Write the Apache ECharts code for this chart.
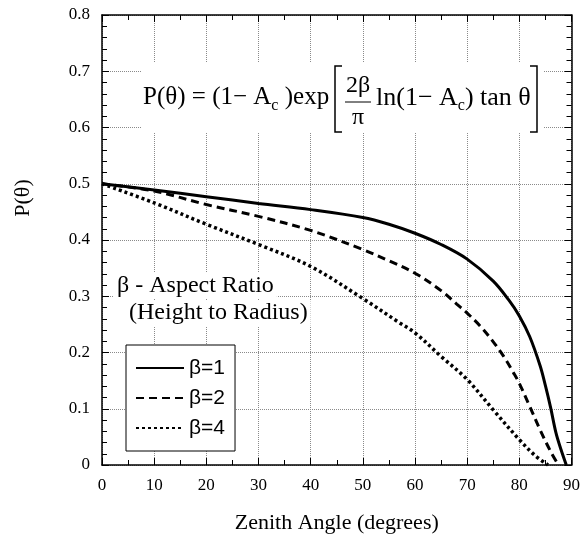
<!doctype html>
<html>
<head>
<meta charset="UTF-8">
<script src="https://cdn.jsdelivr.net/npm/echarts@6/dist/echarts.min.js"></script>
<style>
  html, body { margin: 0; padding: 0; background: #fff; }
  #chart { width: 583px; height: 543px; }
</style>
</head>
<body>
<div id="chart"></div>
<script type="text/javascript">
    // values
    var xTicks = [0, 10, 20, 30, 40, 50, 60, 70, 80, 90];
    var yTicks = [0, 0.1, 0.2, 0.3, 0.4, 0.5, 0.6, 0.7, 0.8];

    var beta1Angles = [0, 10, 20, 30, 40, 50, 55, 60, 65, 70, 75, 78, 80, 82, 84, 85, 86, 87, 88, 89];
    var beta1Values = [0.500, 0.489, 0.477, 0.465, 0.454, 0.440, 0.428, 0.412, 0.392, 0.366, 0.327, 0.293, 0.265, 0.228, 0.176, 0.141, 0.102, 0.058, 0.027, 0.000];

    var beta2Angles = [0, 10, 20, 30, 40, 50, 55, 60, 65, 68, 70, 72.5, 75, 77, 79, 80, 82, 84, 86, 87.5];
    var beta2Values = [0.500, 0.487, 0.463, 0.442, 0.417, 0.383, 0.363, 0.341, 0.310, 0.286, 0.270, 0.247, 0.219, 0.193, 0.162, 0.145, 0.104, 0.062, 0.024, 0.000];

    var beta4Angles = [0, 10, 20, 30, 40, 50, 57, 60, 65, 70, 75, 80, 83, 85.5];
    var beta4Values = [0.500, 0.466, 0.428, 0.392, 0.353, 0.296, 0.253, 0.235, 0.193, 0.152, 0.098, 0.045, 0.017, 0.000];

    var seriesNames = ['β=1', 'β=2', 'β=4'];

    function pairs(xs, ys) {
        return xs.map(function (x, i) { return [x, ys[i]]; });
    }

    var serif = '"Liberation Serif", "DejaVu Serif", serif';
    var sans = '"Liberation Sans", Arial, sans-serif';

    var myChart = echarts.init(document.getElementById('chart'), null, { renderer: 'canvas' });

    // shared axis look
    var xBase = {
        type: 'value',
        min: xTicks[0],
        max: xTicks[xTicks.length - 1],
        interval: xTicks[1] - xTicks[0],
        axisLine: { onZero: false, lineStyle: { color: '#000', width: 1.5 } },
        axisTick: { inside: true, length: 7, lineStyle: { color: '#000' } },
        minorTick: { show: true, splitNumber: 2, length: 5, lineStyle: { color: '#000' } }
    };
    var yBase = {
        type: 'value',
        min: yTicks[0],
        max: yTicks[yTicks.length - 1],
        interval: 0.1,
        axisLine: { onZero: false, lineStyle: { color: '#000', width: 1.5 } },
        axisTick: { inside: true, length: 7, lineStyle: { color: '#000' } },
        minorTick: { show: true, splitNumber: 5, length: 5, lineStyle: { color: '#000' } }
    };

    var option = {
        backgroundColor: '#fff',
        animation: false,
        grid: { left: 102, right: 8, top: 15, bottom: 78 },
        xAxis: [
            Object.assign({}, xBase, {
                position: 'bottom',
                name: 'Zenith Angle (degrees)',
                nameLocation: 'middle',
                nameGap: 47,
                nameTextStyle: { fontFamily: serif, fontSize: 22, color: '#000' },
                axisLabel: { fontFamily: serif, fontSize: 17, color: '#000', margin: 12 },
                splitLine: { show: true, lineStyle: { color: '#8a8a8a', type: 'dotted', width: 1 } }
            }),
            Object.assign({}, xBase, {
                position: 'top',
                axisLabel: { show: false },
                splitLine: { show: false }
            })
        ],
        yAxis: [
            Object.assign({}, yBase, {
                position: 'left',
                axisLabel: { fontFamily: serif, fontSize: 17, color: '#000', margin: 12 },
                splitLine: { show: true, lineStyle: { color: '#8a8a8a', type: 'dotted', width: 1 } }
            }),
            Object.assign({}, yBase, {
                position: 'right',
                axisLabel: { show: false },
                splitLine: { show: false }
            })
        ],
        legend: {
            orient: 'vertical',
            left: 126,
            top: 345,
            data: seriesNames,
            backgroundColor: '#fff',
            borderColor: '#000',
            borderWidth: 1,
            padding: [12, 10, 12, 9],
            itemWidth: 48,
            itemHeight: 14,
            itemGap: 8,
            itemStyle: { opacity: 0 },
            textStyle: { fontFamily: sans, fontSize: 21, lineHeight: 22, color: '#000' }
        },
        graphic: [
            // equation box
            {
                type: 'rect', z: 50,
                shape: { x: 142, y: 63, width: 401, height: 70 },
                style: { fill: '#fff' }
            },
            {
                type: 'text', z: 51, left: 143, top: 85,
                style: {
                    text: '{a|P(θ) = (1− A}{s|c}{a| )exp}',
                    rich: {
                        a: { fontFamily: serif, fontSize: 25, lineHeight: 32, fill: '#000' },
                        s: { fontFamily: serif, fontSize: 16, lineHeight: 32, verticalAlign: 'bottom', fill: '#000' }
                    }
                }
            },
            {
                type: 'polyline', z: 51,
                shape: { points: [[342, 66], [335, 66], [335, 132], [342, 132]] },
                style: { stroke: '#000', lineWidth: 1.5, fill: null }
            },
            {
                type: 'text', z: 51, x: 358, y: 86,
                style: { text: '2β', fontFamily: serif, fontSize: 24, fill: '#000', align: 'center', verticalAlign: 'middle' }
            },
            {
                type: 'line', z: 51,
                shape: { x1: 345, y1: 102, x2: 371, y2: 102 },
                style: { stroke: '#000', lineWidth: 1 }
            },
            {
                type: 'text', z: 51, x: 358, y: 118,
                style: { text: 'π', fontFamily: serif, fontSize: 24, fill: '#000', align: 'center', verticalAlign: 'middle' }
            },
            {
                type: 'text', z: 51, left: 376, top: 85,
                style: {
                    text: '{a|ln(1− A}{s|c}{a|) tan θ}',
                    rich: {
                        a: { fontFamily: serif, fontSize: 26, lineHeight: 32, fill: '#000' },
                        s: { fontFamily: serif, fontSize: 16, lineHeight: 32, verticalAlign: 'bottom', fill: '#000' }
                    }
                }
            },
            {
                type: 'polyline', z: 51,
                shape: { points: [[530, 66], [537, 66], [537, 132], [530, 132]] },
                style: { stroke: '#000', lineWidth: 1.5, fill: null }
            },
            // aspect ratio note
            {
                type: 'text', z: 51, left: 114, top: 273,
                style: {
                    text: 'β - Aspect Ratio', fontFamily: serif, fontSize: 24, fill: '#000',
                    backgroundColor: '#fff', padding: [1, 3, 1, 3]
                }
            },
            {
                type: 'text', z: 51, left: 126, top: 300,
                style: {
                    text: '(Height to Radius)', fontFamily: serif, fontSize: 24, fill: '#000',
                    backgroundColor: '#fff', padding: [1, 3, 1, 3]
                }
            },
            // y axis title
            {
                type: 'text', z: 51, x: 23, y: 198, rotation: Math.PI / 2,
                style: { text: 'P(θ)', fontFamily: serif, fontSize: 22, fill: '#000', align: 'center', verticalAlign: 'middle' }
            }
        ],
        series: [
            {
                name: seriesNames[0], type: 'line', xAxisIndex: 0, yAxisIndex: 0,
                data: pairs(beta1Angles, beta1Values),
                symbol: 'none', smooth: 0.35,
                lineStyle: { color: '#000', width: 3, type: 'solid' },
                itemStyle: { color: '#000' }
            },
            {
                name: seriesNames[1], type: 'line', xAxisIndex: 0, yAxisIndex: 0,
                data: pairs(beta2Angles, beta2Values),
                symbol: 'none', smooth: 0.35,
                lineStyle: { color: '#000', width: 3, type: [8, 5] },
                itemStyle: { color: '#000' }
            },
            {
                name: seriesNames[2], type: 'line', xAxisIndex: 0, yAxisIndex: 0,
                data: pairs(beta4Angles, beta4Values),
                symbol: 'none', smooth: 0.35,
                lineStyle: { color: '#000', width: 3.5, type: [3, 3] },
                itemStyle: { color: '#000' }
            }
        ]
    };

    myChart.setOption(option);
</script>
</body>
</html>
